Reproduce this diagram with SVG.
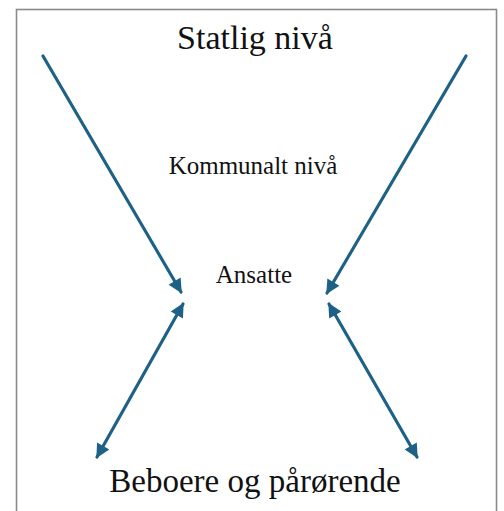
<svg xmlns="http://www.w3.org/2000/svg" width="504" height="511" viewBox="0 0 504 511">
<defs>
<style>
.t{font-family:"Liberation Serif","Times New Roman",serif;fill:#111;text-anchor:middle}
.c{stroke:#1d6286;stroke-width:3.2;fill:none;stroke-linecap:round}
</style>
<marker id="ah" viewBox="0 0 10 10" refX="9" refY="5" markerWidth="16" markerHeight="14" markerUnits="userSpaceOnUse" orient="auto-start-reverse">
<path d="M0,0 L10,5 L0,10 Z" fill="#1d6286"/>
</marker>
</defs>
<rect x="0" y="0" width="504" height="511" fill="#fff"/>
<rect x="16.5" y="9.5" width="480" height="520" fill="#fff" stroke="#8a8a8a" stroke-width="1.6"/>
<g id="connectors">
<line class="c" x1="43" y1="56" x2="181" y2="292" marker-end="url(#ah)"/>
<line class="c" x1="466" y1="56" x2="327" y2="293" marker-end="url(#ah)"/>
<line class="c" x1="183" y1="304" x2="97" y2="457" marker-start="url(#ah)" marker-end="url(#ah)"/>
<line class="c" x1="329" y1="304" x2="417" y2="457" marker-start="url(#ah)" marker-end="url(#ah)"/>
</g>
<g id="statlig"><text class="t" x="255" y="49" font-size="34">Statlig nivå</text></g>
<g id="kommunalt"><text class="t" x="253" y="174" font-size="25">Kommunalt nivå</text></g>
<g id="ansatte"><text class="t" x="254" y="283" font-size="25">Ansatte</text></g>
<g id="beboere"><text class="t" x="255" y="492" font-size="33">Beboere og pårørende</text></g>
</svg>
